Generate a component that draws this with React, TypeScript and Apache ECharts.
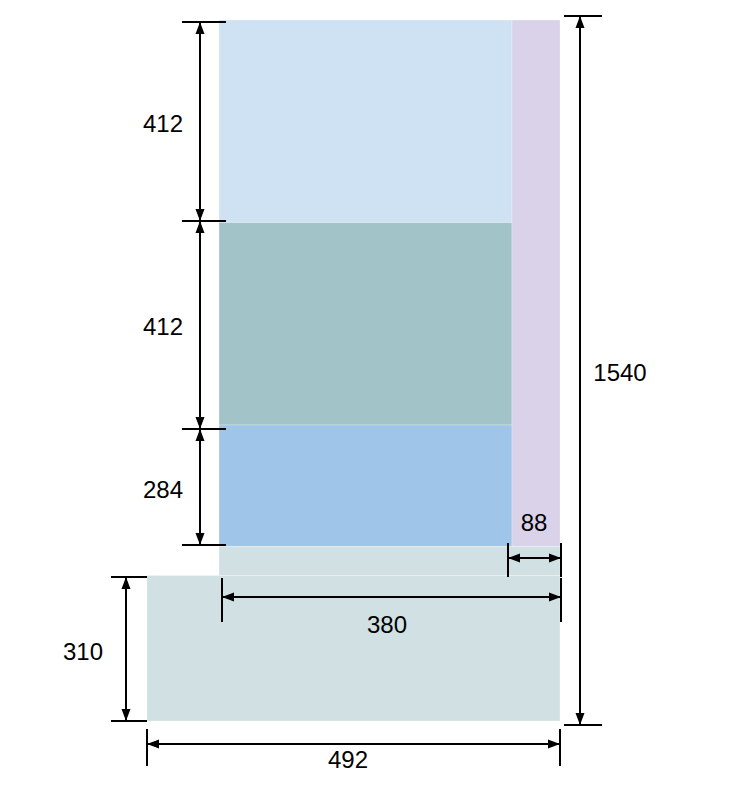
import React, { useEffect, useRef } from 'react';
import * as echarts from 'echarts';

const WIDTH = 748;
const HEIGHT = 794;

// block edges in drawing units (the sketch is not to scale)
const colEdges = [147, 219, 512, 560];
const rowEdges = [20, 222.5, 425, 546.5, 575.5, 721];

// [col from, col to, row from, row to]
const blocks = [
  [1, 2, 0, 1],
  [1, 2, 1, 2],
  [1, 2, 2, 3],
  [2, 3, 0, 3],
  [1, 3, 3, 4],
  [0, 3, 4, 5],
];
const blockColors = ['#cfe2f3', '#a2c4c9', '#9fc5e8', '#d9d2e9', '#d0e0e3', '#d0e0e3'];

// dimension labels
const dimValues = ['412', '412', '284', '310', '88', '380', '492', '1540'];
const dimDirs = ['v', 'v', 'v', 'v', 'h', 'h', 'h', 'v'];
const dimAt = [200, 200, 200, 126, 558, 597, 744, 580];
const dimFrom = [22, 221, 429, 577, 508, 222, 147, 16];
const dimTo = [221, 429, 545, 721, 561, 561, 560, 725];
const tickFrom = [182, 182, 182, 111, 543, 578, 729, 564];
const tickTo = [226, 226, 226, 147, 577, 622, 766, 602];
const labelX = [163, 163, 163, 83, 534, 387, 348, 620];
const labelY = [123, 326, 489, 651, 522, 624, 759, 372];

const ARROW_LEN = 12;
const ARROW_HALF = 4.5;
const INK = '#000';

function arrow(tip: number[], toward: number[]) {
  const dx = toward[0] - tip[0];
  const dy = toward[1] - tip[1];
  const len = Math.sqrt(dx * dx + dy * dy) || 1;
  const ux = dx / len;
  const uy = dy / len;
  const bx = tip[0] + ux * ARROW_LEN;
  const by = tip[1] + uy * ARROW_LEN;
  return {
    type: 'polygon',
    shape: {
      points: [
        tip,
        [bx - uy * ARROW_HALF, by + ux * ARROW_HALF],
        [bx + uy * ARROW_HALF, by - ux * ARROW_HALF],
      ],
    },
    style: { fill: INK },
  };
}

export default function App() {
  const chartRef = useRef<HTMLDivElement>(null);

  useEffect(() => {
    document.body.style.margin = '0';
    if (!chartRef.current) return;
    const chart = echarts.init(chartRef.current, null, { renderer: 'svg' });

    chart.setOption({
      animation: false,
      backgroundColor: '#fff',
      grid: { left: 0, right: 0, top: 0, bottom: 0 },
      xAxis: { type: 'value', min: 0, max: WIDTH, show: false },
      yAxis: { type: 'value', min: 0, max: HEIGHT, inverse: true, show: false },
      series: [
        {
          type: 'custom',
          silent: true,
          data: blocks.map((b) => [colEdges[b[0]], colEdges[b[1]], rowEdges[b[2]], rowEdges[b[3]]]),
          encode: { x: [0, 1], y: [2, 3] },
          renderItem: (params: any, api: any) => {
            const p0 = api.coord([api.value(0), api.value(2)]);
            const p1 = api.coord([api.value(1), api.value(3)]);
            return {
              type: 'rect',
              shape: { x: p0[0], y: p0[1], width: p1[0] - p0[0], height: p1[1] - p0[1] },
              style: {
                fill: blockColors[params.dataIndex],
                stroke: 'rgba(255,255,255,0.45)',
                lineWidth: 0.6,
              },
            };
          },
        },
        {
          type: 'custom',
          silent: true,
          data: dimValues.map((v, i) => [dimAt[i], dimFrom[i], dimTo[i], labelX[i], labelY[i]]),
          encode: { x: 3, y: 4 },
          renderItem: (params: any, api: any) => {
            const i = params.dataIndex;
            const vertical = dimDirs[i] === 'v';
            const pt = (along: number, across: number) =>
              vertical ? api.coord([across, along]) : api.coord([along, across]);
            const a = pt(dimFrom[i], dimAt[i]);
            const b = pt(dimTo[i], dimAt[i]);
            const lineStyle = { stroke: INK, lineWidth: 2 };
            const seg = (p: number[], q: number[]) => ({
              type: 'line',
              shape: { x1: p[0], y1: p[1], x2: q[0], y2: q[1] },
              style: lineStyle,
            });
            const label = api.coord([labelX[i], labelY[i]]);
            return {
              type: 'group',
              children: [
                seg(a, b),
                seg(pt(dimFrom[i], tickFrom[i]), pt(dimFrom[i], tickTo[i])),
                seg(pt(dimTo[i], tickFrom[i]), pt(dimTo[i], tickTo[i])),
                arrow(a, b),
                arrow(b, a),
                {
                  type: 'text',
                  x: label[0],
                  y: label[1],
                  style: {
                    text: dimValues[i],
                    fill: INK,
                    font: '24px "Liberation Sans", Arial, sans-serif',
                    align: 'center',
                    verticalAlign: 'middle',
                  },
                },
              ],
            };
          },
        },
      ],
    });

    return () => {
      chart.dispose();
    };
  }, []);

  return <div ref={chartRef} style={{ width: WIDTH, height: HEIGHT }} />;
}
